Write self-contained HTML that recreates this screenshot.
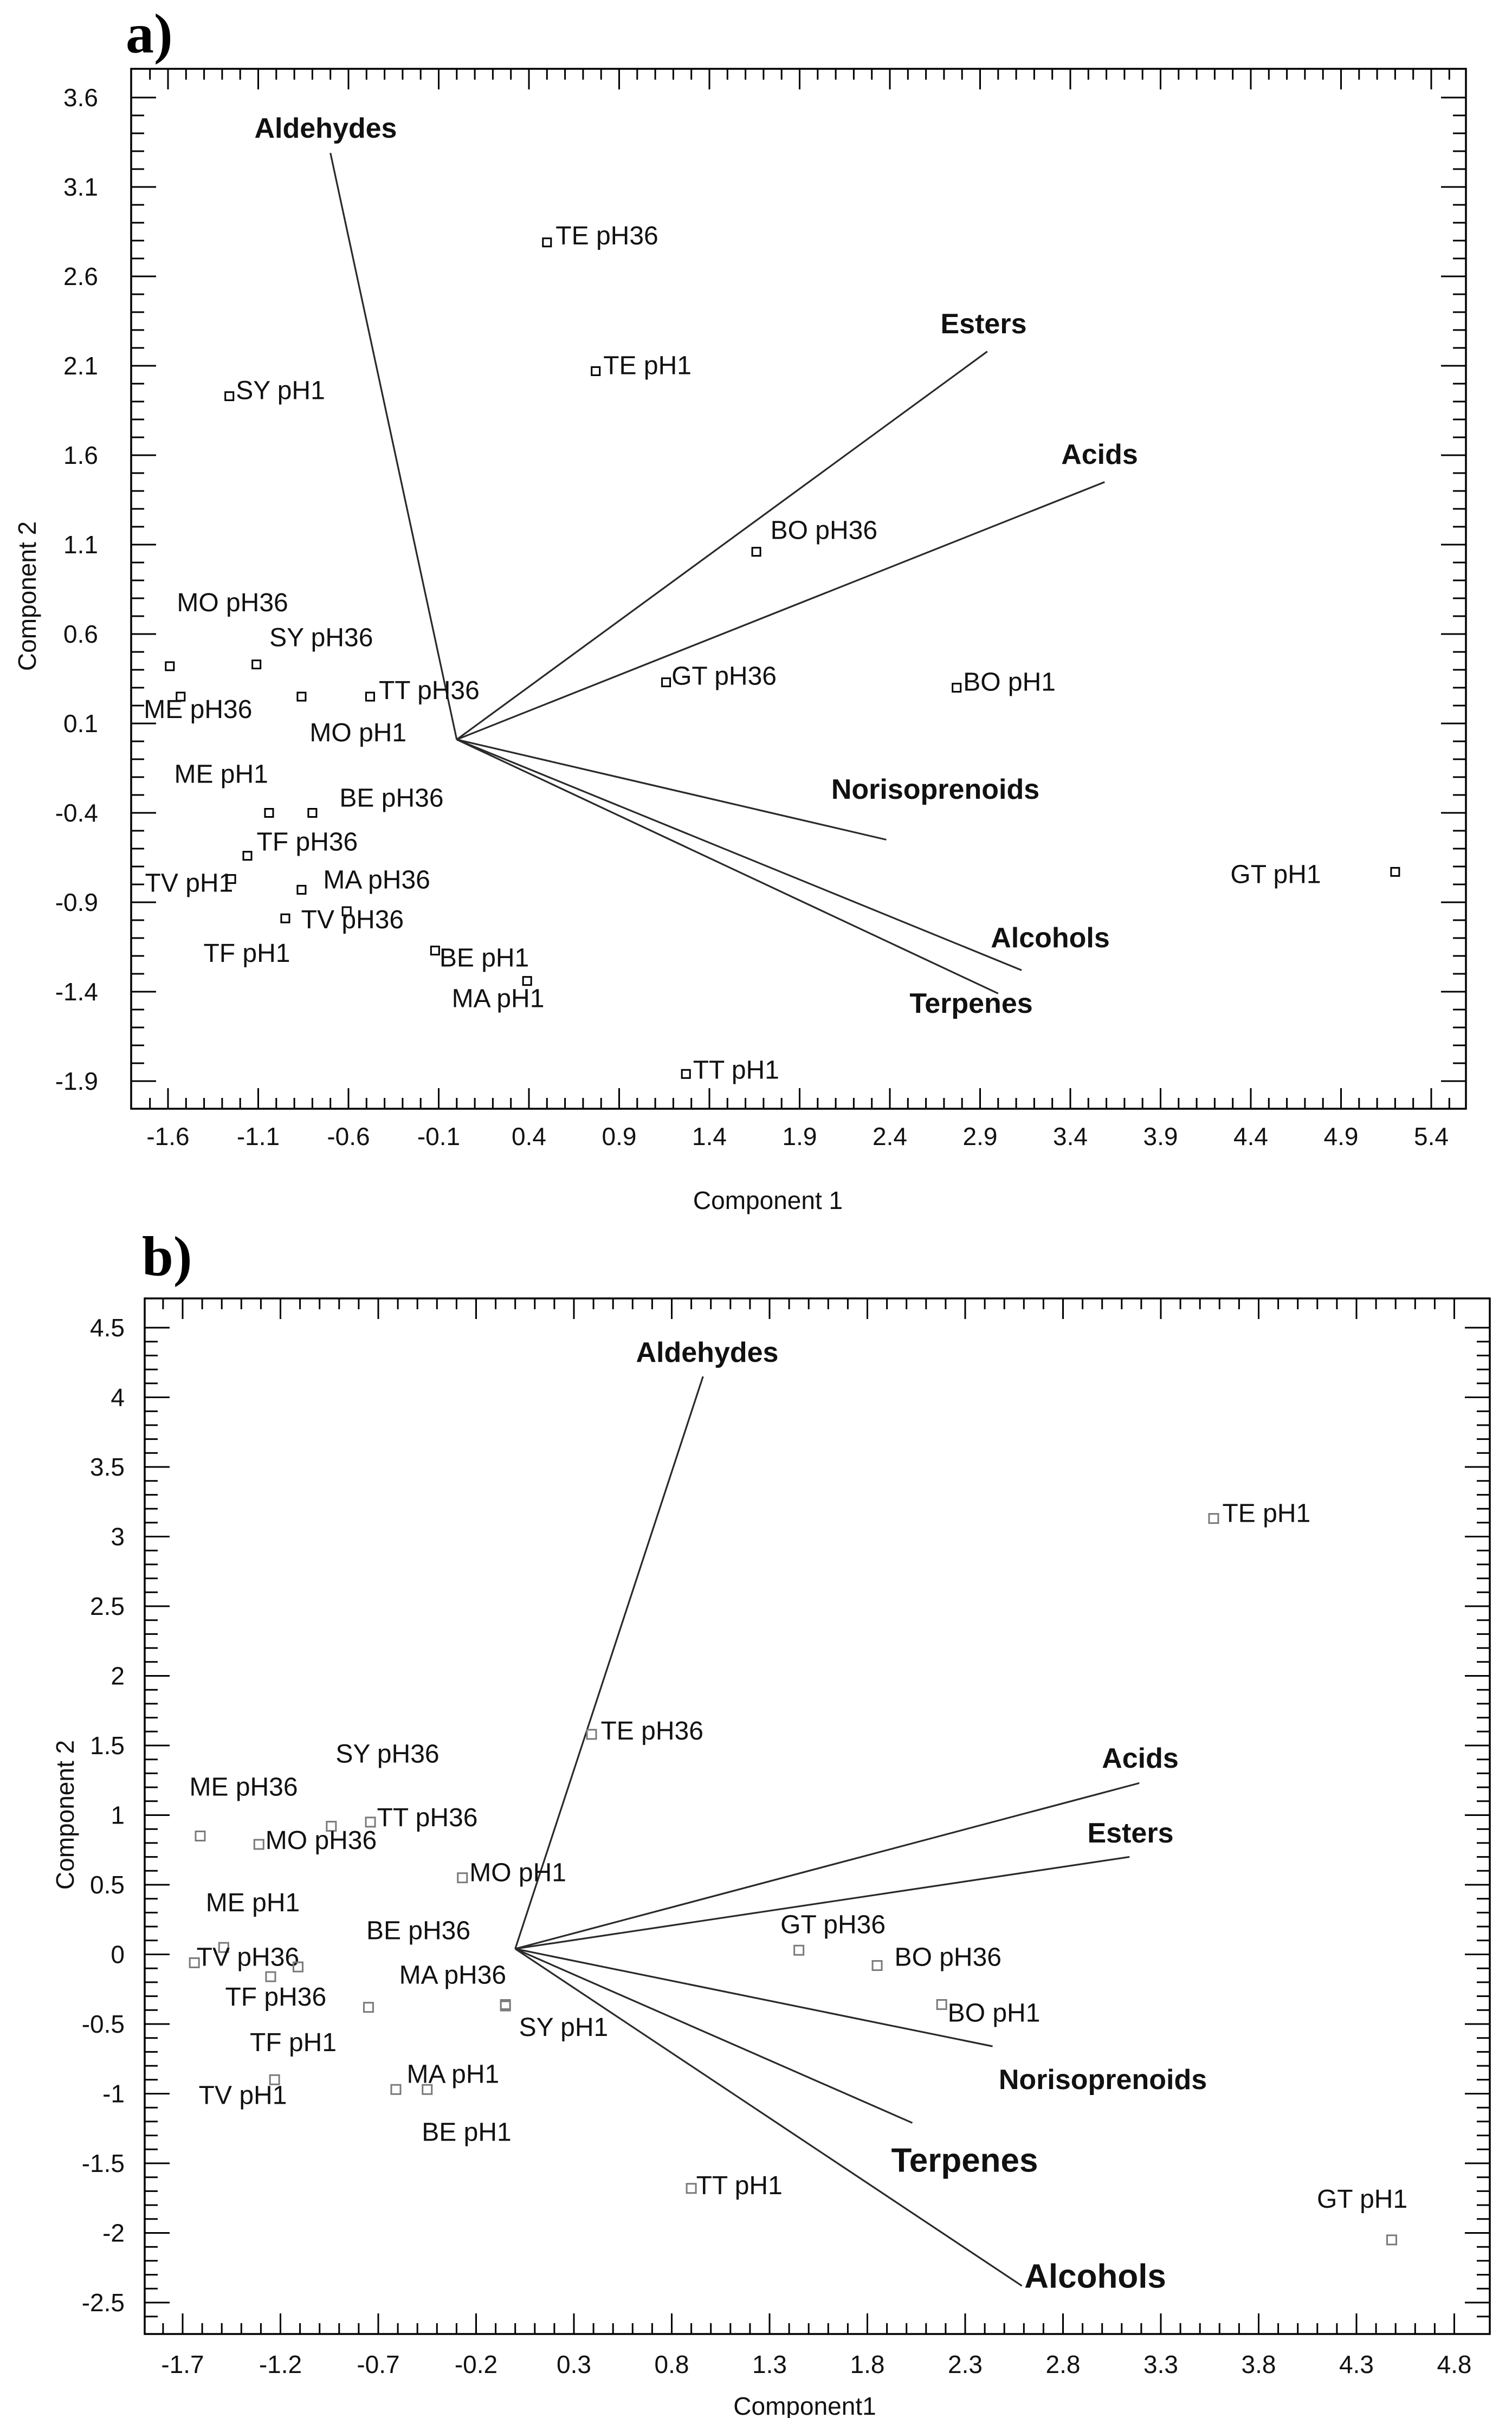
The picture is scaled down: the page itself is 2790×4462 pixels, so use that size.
<!DOCTYPE html>
<html><head><meta charset="utf-8"><style>
html,body{margin:0;padding:0;background:#fff;}
svg{display:block;}
text{font-family:"Liberation Sans",Arial,sans-serif;}
</style></head><body>
<svg id="fig" xmlns="http://www.w3.org/2000/svg" width="2790" height="4462" viewBox="0 0 2790 4462">
<rect x="0" y="0" width="2790" height="4462" fill="#fff"/>
</svg>
<script>
// ---------- Panel a data ----------
const aSampleNames = ["TE pH36","TE pH1","SY pH1","BO pH36","GT pH36","BO pH1","GT pH1","TT pH1","MO pH36","ME pH36","SY pH36","MO pH1","TT pH36","ME pH1","BE pH36","TF pH36","TV pH1","MA pH36","TF pH1","TV pH36","BE pH1","MA pH1"];
const aScoreX = [0.50,0.77,-1.26,1.66,1.16,2.77,5.20,1.27,-1.59,-1.53,-1.11,-0.86,-0.48,-1.04,-0.80,-1.16,-1.25,-0.86,-0.95,-0.61,-0.12,0.39];
const aScoreY = [2.79,2.07,1.93,1.06,0.33,0.30,-0.73,-1.86,0.42,0.25,0.43,0.25,0.25,-0.40,-0.40,-0.64,-0.77,-0.83,-0.99,-0.95,-1.17,-1.34];
const aVarNames = ["Aldehydes","Esters","Acids","Norisoprenoids","Alcohols","Terpenes"];
const aLoadX = [-0.70,2.94,3.59,2.38,3.13,3.00];
const aLoadY = [3.29,2.18,1.45,-0.55,-1.28,-1.41];
const aXTicks = [-1.6,-1.1,-0.6,-0.1,0.4,0.9,1.4,1.9,2.4,2.9,3.4,3.9,4.4,4.9,5.4];
const aYTicks = [3.6,3.1,2.6,2.1,1.6,1.1,0.6,0.1,-0.4,-0.9,-1.4,-1.9];
// ---------- Panel b data ----------
const bSampleNames = ["TE pH1","TE pH36","SY pH36","ME pH36","MO pH36","TT pH36","MO pH1","ME pH1","TV pH36","TF pH1","TF pH36","BE pH36","SY pH1","MA pH36","TV pH1","MA pH1","BE pH1","GT pH36","BO pH36","BO pH1","TT pH1","GT pH1"];
const bScoreX = [3.57,0.39,-0.94,-1.61,-1.31,-0.74,-0.27,-1.49,-1.64,-1.11,-1.25,-0.75,-0.05,-0.05,-1.23,-0.61,-0.45,1.45,1.85,2.18,0.90,4.48];
const bScoreY = [3.13,1.58,0.92,0.85,0.79,0.95,0.55,0.05,-0.06,-0.09,-0.16,-0.38,-0.37,-0.36,-0.90,-0.97,-0.97,0.03,-0.08,-0.36,-1.68,-2.05];
const bVarNames = ["Aldehydes","Acids","Esters","Norisoprenoids","Terpenes","Alcohols"];
const bLoadX = [0.96,3.19,3.14,2.44,2.03,2.59];
const bLoadY = [4.15,1.23,0.70,-0.66,-1.21,-2.38];
const bXTicks = [-1.7,-1.2,-0.7,-0.2,0.3,0.8,1.3,1.8,2.3,2.8,3.3,3.8,4.3,4.8];
const bYTicks = [4.5,4,3.5,3,2.5,2,1.5,1,0.5,0,-0.5,-1,-1.5,-2,-2.5];

// ---------- layout (styling, not data) ----------
const aLabelOff = [[16,-12],[14,-10],[12,-10],[26,-39],[10,-11],[12,-10],[-304,5],[13,-7],[13,-117],[-68,24],[24,-49],[15,67],[16,-11],[-175,-71],[50,-27],[17,-25],[-159,8],[40,-18],[-151,65],[-84,16],[8,14],[-139,33]];
const aVarLabelPos = [[601,237,52],[1815,598,52],[2029,839,52],[1726,1457,52],[1938,1731,52],[1792,1852,52]];
const bLabelOff = [[16,-9],[17,-6],[8,-133],[-20,-90],[12,-7],[12,-8],[13,-9],[-33,-82],[4,-10],[-89,140],[-84,38],[-4,-141],[25,40],[-196,-54],[-140,29],[20,-28],[-10,79],[-34,-47],[32,-15],[11,16],[9,-5],[-138,-75]];
const bVarLabelPos = [[1305,2496,52],[2104,3245,52],[2086,3383,52],[2035,3838,52],[1780,3987,62],[2021,4201,62]];

const NS = "http://www.w3.org/2000/svg";
const svg = document.getElementById("fig");
function mk(tag, attrs, parent){
  const e = document.createElementNS(NS, tag);
  for (const k in attrs) e.setAttribute(k, attrs[k]);
  (parent||svg).appendChild(e);
  return e;
}
function fmt(v){ return (Math.round(v*10)/10).toString(); }

function panel(cfg){
  const g = mk("g", {});
  
  
  const sx = v => cfg.x0px + (v - cfg.x0val) * cfg.xu;
  const sy = v => cfg.y0px - (v - cfg.y0val) * cfg.yu;
  const L = cfg.left, R = cfg.right, T = cfg.top, B = cfg.bottom;
  // frame
  const fr = mk("rect", {x:L, y:T, width:R-L, height:B-T, fill:"none", stroke:"#000", "stroke-width":3.5}, g);
  
  
  // x ticks (minor at 0.1)
  const xMin = cfg.x0val - (cfg.x0px - L)/cfg.xu, xMax = cfg.x0val + (R - cfg.x0px)/cfg.xu;
  const xt = mk("g", {stroke:"#000","stroke-width":3}, g);
  
  
  for (let i = Math.ceil((xMin - cfg.x0val)*10); i <= Math.floor((xMax - cfg.x0val)*10); i++){
    const v = cfg.x0val + i/10, px = sx(v);
    if (px < L + 30 || px > R - 30) continue;
    const major = (((i % 5) + 5) % 5) === 0;
    const len = major ? 38 : 20;
    mk("line", {x1:px, y1:B, x2:px, y2:B-len}, xt);
    mk("line", {x1:px, y1:T, x2:px, y2:T+len}, xt);
  }
  const yMin = cfg.y0val - (B - cfg.y0px)/cfg.yu, yMax = cfg.y0val + (cfg.y0px - T)/cfg.yu;
  const yt = mk("g", {stroke:"#000","stroke-width":3}, g);
  
  
  for (let i = Math.ceil((yMin - cfg.y0val)*10); i <= Math.floor((yMax - cfg.y0val)*10); i++){
    const v = cfg.y0val + i/10, py = sy(v);
    if (py < T + 30 || py > B - 30) continue;
    const major = (((i % 5) + 5) % 5) === 0;
    const len = major ? 46 : 24;
    mk("line", {x1:L, y1:py, x2:L+len, y2:py}, yt);
    mk("line", {x1:R, y1:py, x2:R-len, y2:py}, yt);
  }
  // tick labels
  cfg.xTicks.forEach(v => {
    const t = mk("text", {x:sx(v), y:cfg.xLabelY, "font-size":46, "text-anchor":"middle", "dominant-baseline":"central", fill:"#111"}, g);
    t.textContent = fmt(v);
    
    
  });
  cfg.yTicks.forEach(v => {
    const t = mk("text", {x:cfg.yLabelX, y:sy(v), "font-size":46, "text-anchor":"end", "dominant-baseline":"central", fill:"#111"}, g);
    t.textContent = fmt(v);
    
    
  });
  // axis titles
  const xtt = mk("text", {x:cfg.xTitle[0], y:cfg.xTitle[1], "font-size":46, "text-anchor":"middle", "dominant-baseline":"central", fill:"#111"}, g);
  xtt.textContent = cfg.xTitleText;
  
  
  const ytt = mk("text", {x:cfg.yTitle[0], y:cfg.yTitle[1], "font-size":46, "text-anchor":"middle", "dominant-baseline":"central", fill:"#111", transform:"rotate(-90 "+cfg.yTitle[0]+" "+cfg.yTitle[1]+")"}, g);
  ytt.textContent = cfg.yTitleText;
  
  
  // loading vectors
  const ox = sx(cfg.origin[0]), oy = sy(cfg.origin[1]);
  cfg.varNames.forEach((n, i) => {
    const ln = mk("line", {x1:ox, y1:oy, x2:sx(cfg.loadX[i]), y2:sy(cfg.loadY[i]), stroke:"#2a2a2a", "stroke-width":3.2}, g);
    
    
    const p = cfg.varLabelPos[i];
    const t = mk("text", {x:p[0], y:p[1], "font-size":p[2], "font-weight":"bold", "text-anchor":"middle", "dominant-baseline":"central", fill:"#111"}, g);
    t.textContent = n;
    
    
  });
  // sample scores
  cfg.names.forEach((n, i) => {
    const px = sx(cfg.sx[i]), py = sy(cfg.sy[i]);
    const s = cfg.sq;
    const r = mk("rect", {x:px - s/2, y:py - s/2, width:s, height:s, fill:"none", stroke:cfg.sqColor, "stroke-width":3}, g);
    
    
    const o = cfg.labelOff[i];
    const t = mk("text", {x:px + o[0], y:py + o[1], "font-size":48, "dominant-baseline":"central", fill:"#111"}, g);
    t.textContent = n;
    
    
  });
  // panel letter
  const pl = mk("text", {x:cfg.letter[0], y:cfg.letter[1], "font-size":104, "font-weight":"bold", fill:"#000", style:"font-family:'Liberation Serif',serif"}, g);
  pl.textContent = cfg.letterText;
  
  
}

panel({id:"panel-a", left:242, right:2705, top:127, bottom:2046,
  x0px:310, x0val:-1.6, xu:333, y0px:180, y0val:3.6, yu:330,
  xTicks:aXTicks, yTicks:aYTicks, xLabelY:2097, yLabelX:181,
  xTitle:[1417,2215], xTitleText:"Component 1", yTitle:[50,1100], yTitleText:"Component  2",
  origin:[0,0.01], varNames:aVarNames, loadX:aLoadX, loadY:aLoadY, varLabelPos:aVarLabelPos,
  names:aSampleNames, sx:aScoreX, sy:aScoreY, labelOff:aLabelOff, sq:15, sqColor:"#000",
  letter:[232,97], letterText:"a)"});

panel({id:"panel-b", left:267, right:2749, top:2396, bottom:4307,
  x0px:337, x0val:-1.7, xu:361, y0px:2450, y0val:4.5, yu:257,
  xTicks:bXTicks, yTicks:bYTicks, xLabelY:4363, yLabelX:230,
  xTitle:[1485,4440], xTitleText:"Component1", yTitle:[120,3349], yTitleText:"Component 2",
  origin:[0,0.04], varNames:bVarNames, loadX:bLoadX, loadY:bLoadY, varLabelPos:bVarLabelPos,
  names:bSampleNames, sx:bScoreX, sy:bScoreY, labelOff:bLabelOff, sq:17, sqColor:"#7a7a7a",
  letter:[262,2353], letterText:"b)"});
</script>
</body></html>
